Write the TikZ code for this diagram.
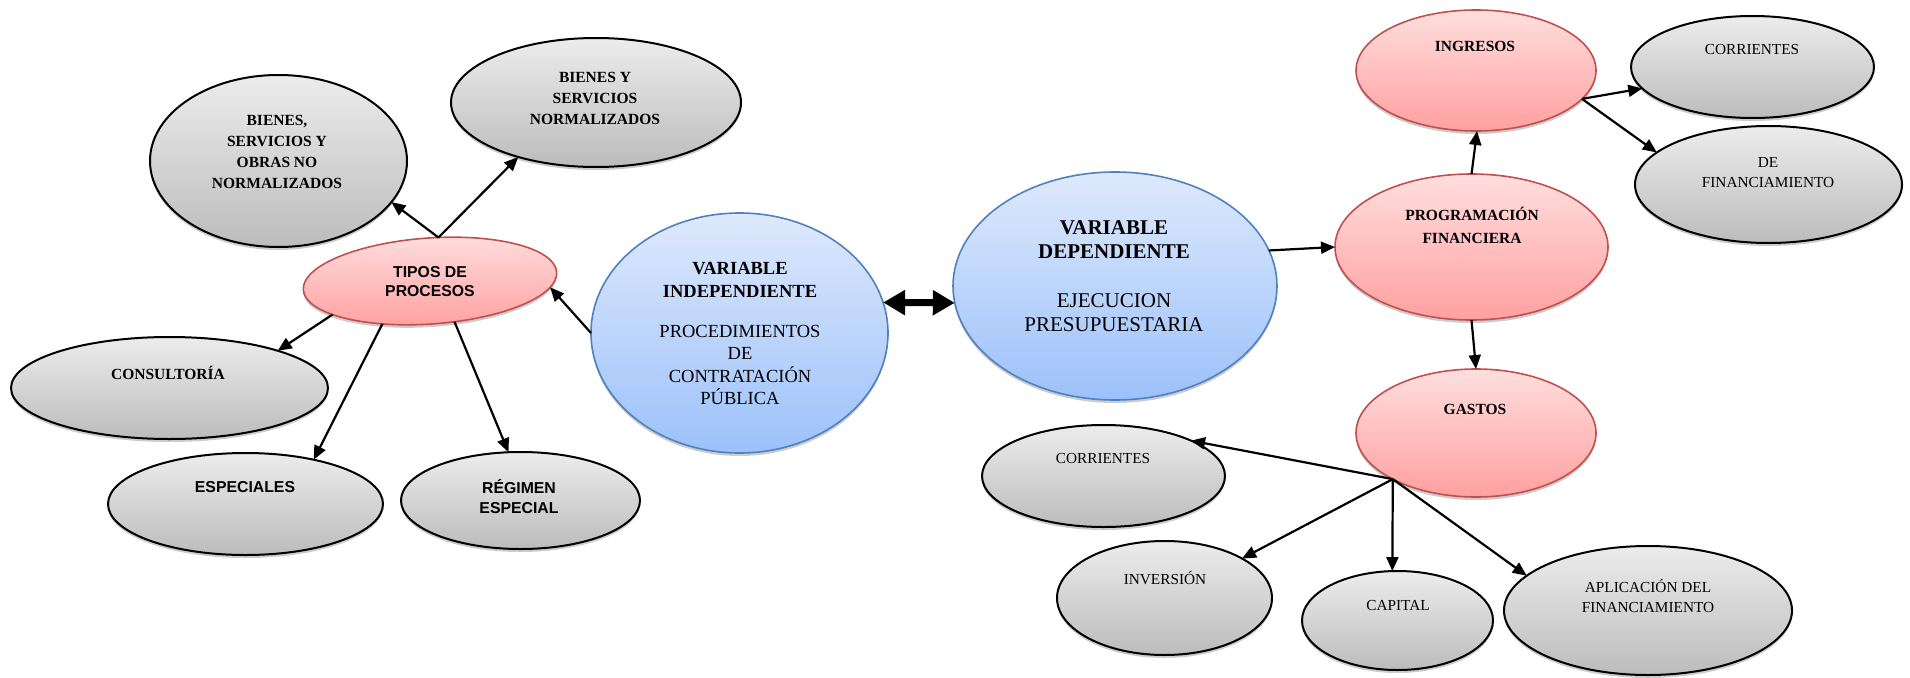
\documentclass[tikz,border=0pt]{standalone}
\usepackage{fontspec}
\setmainfont{Liberation Serif}
\newfontfamily\arialfont{Liberation Sans}
\usetikzlibrary{shapes.geometric,arrows.meta,shadows}
\definecolor{gtop}{RGB}{236,236,236}
\definecolor{gbot}{RGB}{188,188,188}
\definecolor{ptop}{RGB}{255,222,222}
\definecolor{pbot}{RGB}{255,160,160}
\definecolor{pline}{RGB}{192,80,77}
\definecolor{btop}{RGB}{222,233,252}
\definecolor{bbot}{RGB}{156,193,250}
\definecolor{bline}{RGB}{79,129,189}
\begin{document}
\begin{tikzpicture}[x=1pt,y=-1pt,
  ell/.style={ellipse, inner sep=0pt, outer sep=0pt},
  shad/.style={drop shadow={shadow xshift=0pt, shadow yshift=-3pt, opacity=0.2, fill=black}},
  grayell/.style={ell, shad, draw=black, line width=2pt, top color=gtop, bottom color=gbot},
  pinkell/.style={ell, shad, draw=pline, line width=1.6pt, top color=ptop, bottom color=pbot},
  blueell/.style={ell, shad, draw=bline, line width=1.6pt, top color=btop, bottom color=bbot},
  sz/.style 2 args={minimum width=#1pt, minimum height=#2pt},
  arr/.style={line width=2.2pt, -{Triangle[length=14pt,width=12pt]}},
  dbl/.style={line width=7pt, {Triangle[length=22pt,width=24pt]}-{Triangle[length=22pt,width=24pt]}},
  sb/.style={font=\fontsize{15.5}{21}\selectfont\bfseries, align=center},
  sr/.style={font=\fontsize{15.3}{20}\selectfont, align=center},
  ab/.style={font=\arialfont\fontsize{15.8}{19.5}\selectfont\bfseries, align=center}
]
\useasboundingbox (0,0) rectangle (1910,677);

% ellipses
\node[grayell, sz={257}{172}] (bsonn) at (278.5,161) {};
\node[grayell, sz={290}{129}] (bsn) at (596,102.5) {};
\node[pinkell, sz={254}{86}, rotate=4] (tipos) at (430,281) {};
\node[grayell, sz={317}{102}] (consult) at (169.5,388) {};
\node[grayell, sz={275}{102}] (espec) at (245.5,504) {};
\node[grayell, sz={239}{97}] (regimen) at (520.5,500.5) {};
\node[blueell, sz={297}{240}] (varind) at (739.5,333) {};
\node[blueell, sz={324}{228}] (vardep) at (1115,286) {};
\node[pinkell, sz={273}{146}] (prog) at (1471.5,247) {};
\node[pinkell, sz={240}{121}] (ingresos) at (1476,70.5) {};
\node[grayell, sz={243}{102}] (corrtop) at (1752.5,67) {};
\node[grayell, sz={267}{117}] (definan) at (1768.5,184.5) {};
\node[pinkell, sz={240}{128}] (gastos) at (1476,433) {};
\node[grayell, sz={243}{102}] (corrbot) at (1103.5,476) {};
\node[grayell, sz={215}{114}] (inversion) at (1164.5,598) {};
\node[grayell, sz={191}{99}] (capital) at (1397.5,620.5) {};
\node[grayell, sz={288}{129}] (aplic) at (1648,610.5) {};

% texts
\node[sb] (t-bsonn) at (277,152) {BIENES,\\SERVICIOS Y\\OBRAS NO\\NORMALIZADOS};
\node[sb] (t-bsn) at (595,98.5) {BIENES Y\\SERVICIOS\\NORMALIZADOS};
\node[ab] (t-tipos) at (430,281.5) {TIPOS DE\\PROCESOS};
\node[sb] (t-consult) at (168,373) {CONSULTORÍA};
\node[ab] (t-espec) at (245,487) {ESPECIALES};
\node[ab] (t-regimen) at (519,496.5) {RÉGIMEN\\ESPECIAL};
\node[font=\fontsize{18.5}{22.5}\selectfont, align=center] (t-varind) at (740,333.5)
  {\textbf{VARIABLE}\\\textbf{INDEPENDIENTE}\\[17.5pt]PROCEDIMIENTOS\\DE\\CONTRATACIÓN\\PÚBLICA};
\node[font=\fontsize{21}{24}\selectfont, align=center] (t-vardep) at (1114,276.5)
  {\textbf{VARIABLE}\\\textbf{DEPENDIENTE}\\[25pt]EJECUCION\\PRESUPUESTARIA};
\node[sb, font=\fontsize{15.5}{22.5}\selectfont\bfseries] (t-prog) at (1472,225.5) {PROGRAMACIÓN\\FINANCIERA};
\node[sb] (t-ingresos) at (1475,46) {INGRESOS};
\node[sr] (t-corrtop) at (1752,50) {CORRIENTES};
\node[sr] (t-definan) at (1768,173) {DE\\FINANCIAMIENTO};
\node[sb] (t-gastos) at (1475,409) {GASTOS};
\node[sr] (t-corrbot) at (1103,459) {CORRIENTES};
\node[sr] (t-inversion) at (1165,578) {INVERSIÓN};
\node[sr] (t-capital) at (1398,606) {CAPITAL};
\node[sr] (t-aplic) at (1648,596) {APLICACIÓN DEL\\FINANCIAMIENTO};

% connectors
\draw[arr] (tipos.75) -- (bsonn.340);
\draw[arr] (tipos.75) -- (bsn.215);
\draw[arr] (tipos.195) -- (consult.19);
\draw[arr] (tipos.218) -- (espec.33);
\draw[arr] (tipos.297) -- (regimen.104);
\draw[arr] (varind.180) -- (tipos.353);
\draw[dbl] (varind.12) -- (vardep.186);
\draw[arr] (vardep.13) -- (prog.180);
\draw[arr] (prog.90) -- (ingresos.271);
\draw[arr] (ingresos.345.5) -- (corrtop.191);
\draw[arr] (ingresos.345.5) -- (definan.164);
\draw[arr] (prog.270) -- (gastos.90);
\draw[arr] (gastos.209) -- (corrbot.22);
\draw[arr] (gastos.209) -- (inversion.27);
\draw[arr] (gastos.209) -- (capital.96);
\draw[arr] (gastos.209) -- (aplic.164);
\end{tikzpicture}
\end{document}
